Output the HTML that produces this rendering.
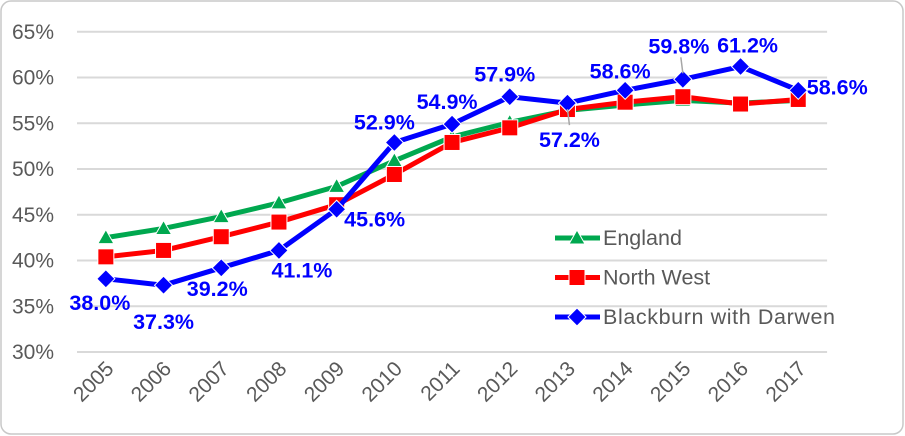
<!DOCTYPE html>
<html><head><meta charset="utf-8"><style>
html,body{margin:0;padding:0;background:#fff;}
svg{display:block;font-family:"Liberation Sans",sans-serif;}
</style></head><body>
<svg id="chart" width="905" height="436">
<rect x="1" y="1" width="902" height="433" rx="10" fill="#fff" stroke="#c8c8c8" stroke-width="1.5"/>
<g id="grid"></g><g id="yt"></g><g id="xt"></g><g id="series"></g><g id="labels"></g><g id="legend"></g>
</svg>
<script>
const years=["2005","2006","2007","2008","2009","2010","2011","2012","2013","2014","2015","2016","2017"];
const england=[42.5,43.5,44.8,46.3,48.1,50.9,53.5,55.1,56.4,57.0,57.5,57.2,57.5];
const northWest=[40.4,41.1,42.6,44.2,46.1,49.4,52.9,54.5,56.5,57.3,57.9,57.1,57.6];
const blackburn=[38.0,37.3,39.2,41.1,45.6,52.9,54.9,57.9,57.2,58.6,59.8,61.2,58.6];
const yTicks=[30,35,40,45,50,55,60,65];
const labelOffsets=[[-6,24],[0,37],[-4,21],[23,20],[38,10],[-10,-20],[-5,-22],[-5,-22],[2,37],[-5,-19],[-4,-33],[7,-21],[39,-3]];
const NS="http://www.w3.org/2000/svg";
const x0=77,cw=57.7,yBase=352,pp=9.15;
const X=i=>x0+cw*(i+0.5);
const Y=v=>yBase-(v-30)*pp;
function mk(t,a,p){const e=document.createElementNS(NS,t);for(const k in a)e.setAttribute(k,a[k]);p.appendChild(e);return e;}
const G=document.getElementById('grid'),YT=document.getElementById('yt'),XT=document.getElementById('xt');
yTicks.forEach(v=>{
 const l=mk('line',{x1:x0,x2:x0+cw*13,y1:Y(v),y2:Y(v),stroke:'#d9d9d9','stroke-width':2},G);
 
 
 const t=mk('text',{x:54,y:Y(v)+7,'text-anchor':'end','font-size':21,fill:'#595959'},YT);
 t.textContent=v+'%';
 
 
});
years.forEach((y,i)=>{
 const t=mk('text',{x:X(i)+9,y:370,'text-anchor':'end','font-size':21,fill:'#595959',transform:`rotate(-45 ${X(i)+9} 370)`},XT);
 t.textContent=y;
 
 
});
const S=document.getElementById('series');
function marker(type,cx,cy,color,p){
 let e;
 if(type==='tri')e=mk('polygon',{points:`${cx},${cy-8} ${cx+8},${cy+6} ${cx-8},${cy+6}`,fill:color,stroke:'#fff','stroke-width':1},p);
 else if(type==='sq')e=mk('rect',{x:cx-8,y:cy-8,width:16,height:16,fill:color,stroke:'#fff','stroke-width':1},p);
 else e=mk('polygon',{points:`${cx},${cy-9} ${cx+9},${cy} ${cx},${cy+9} ${cx-9},${cy}`,fill:color,stroke:'#fff','stroke-width':1},p);
 return e;
}
function series(vals,color,type,name){
 const g=mk('g',{},S);
 
 
 const pl=mk('polyline',{points:vals.map((v,i)=>X(i)+','+Y(v)).join(' '),fill:'none',stroke:color,'stroke-width':5,'stroke-linejoin':'round'},g);
 
 
 vals.forEach((v,i)=>{
  const m=marker(type,X(i),Y(v),color,g);
  
  
 });
}
series(england,'#00a84f','tri','england');
series(northWest,'#ff0000','sq','north-west');
series(blackburn,'#0000ff','dia','blackburn');
const L=document.getElementById('labels');
[8,10].forEach(i=>{
 const up=labelOffsets[i][1]<0;
 const ln=mk('line',{x1:X(i),y1:Y(blackburn[i])+(up?-6:6),x2:X(i)+(up?-2:2),y2:Y(blackburn[i])+(up?-22:22),stroke:'#a6a6a6','stroke-width':1.5},L);
 
 
});
blackburn.forEach((v,i)=>{
 const o=labelOffsets[i];
 const t=mk('text',{x:X(i)+o[0],y:Y(v)+o[1]+7,'text-anchor':'middle','font-size':21.5,'font-weight':'bold',fill:'#0000ff'},L);
 t.textContent=v.toFixed(1)+'%';
 
 
});
const LG=document.getElementById('legend');
[['England','#00a84f','tri'],['North West','#ff0000','sq'],['Blackburn with Darwen','#0000ff','dia']].forEach((d,k)=>{
 const y=238+k*39.5;
 const g=mk('g',{},LG);
 
 
 mk('line',{x1:555,x2:600,y1:y,y2:y,stroke:d[1],'stroke-width':5},g);
 marker(d[2],577,y,d[1],g);
 const t=mk('text',{x:603,y:y+7,'font-size':21.5,fill:'#595959',textLength:d[0]==='Blackburn with Darwen'?232:null},g);
 if(d[0]!=='Blackburn with Darwen')t.removeAttribute('textLength');
 t.textContent=d[0];
});
</script>
</body></html>
